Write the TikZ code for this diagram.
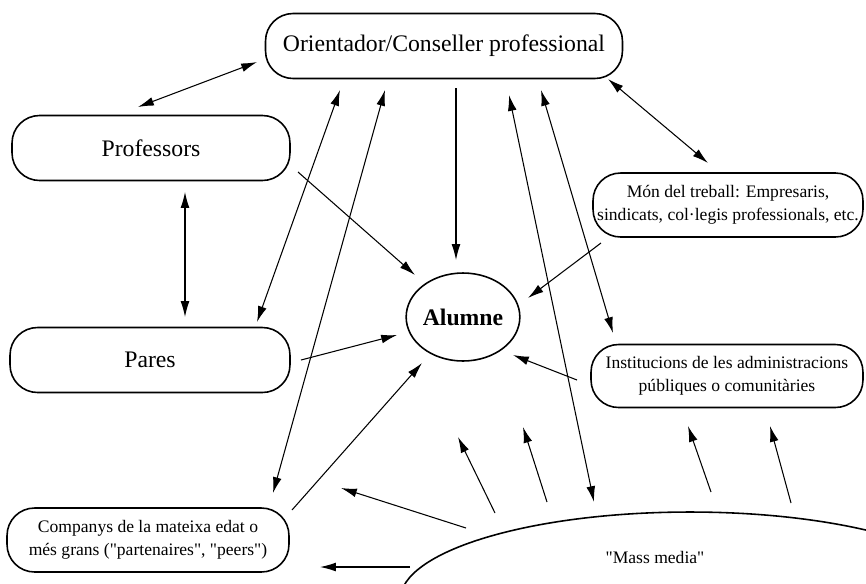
\documentclass[tikz,border=0pt]{standalone}
\usepackage{fontspec}
\setmainfont{Liberation Serif}[Ligatures=TeXOff]
\usetikzlibrary{calc, arrows.meta, shapes.geometric}

\tikzset{
  box/.style={draw, line width=0.9pt, rounded corners=0.55cm, align=center, inner sep=0pt},
  oval/.style={draw, line width=0.9pt, ellipse, align=center, inner sep=0pt},
  conn/.style={line width=0.6pt},
  big/.style={font=\fontsize{13.5}{15}\selectfont},
  small/.style={font=\fontsize{10}{13}\selectfont},
}

\begin{document}
\begin{tikzpicture}[x=0.02cm, y=-0.02cm, >={Latex[length=9pt,width=5pt]}]
  \useasboundingbox (0,0) rectangle (866,583);
  \clip (0,0) rectangle (866,583);

  \node [box, big, minimum width=7.14cm, minimum height=1.3cm] (orient) at (444,46) {Orientador/Conseller professional};
  \node [box, big, minimum width=5.56cm, minimum height=1.3cm] (prof) at (151,148) {Professors};
  \node [box, small, minimum width=5.4cm, minimum height=1.28cm] (mon) at (728,205) {Món del treball: Empresaris,\\sindicats, col·legis professionals, etc.};
  \node [oval, font=\fontsize{13.5}{15}\selectfont\bfseries, minimum width=2.24cm, minimum height=1.76cm] (alumne) at (463,317) {Alumne};
  \node [box, big, minimum width=5.6cm, minimum height=1.3cm] (pares) at (150,360) {Pares};
  \node [box, small, minimum width=5.44cm, minimum height=1.26cm] (inst) at (727,376) {Institucions de les administracions\\públiques o comunitàries};
  \node [box, small, minimum width=5.64cm, minimum height=1.28cm] (comp) at (148,540) {Companys de la mateixa edat o\\més grans ("partenaires", "peers")};
  \node [oval, minimum width=11.6cm, minimum height=3.52cm] (media) at (690,600) {};
  \node [small] (medialbl) at (655,557) {"Mass media"};

  \coordinate (tipa) at (458,437);
  \coordinate (tipb) at (523,427);
  \coordinate (tipc) at (688,426);
  \coordinate (tipd) at (770,426);

  \draw [conn, <->] ($(orient)+(-187,16)$) -- ($(prof)+(-13,-41)$);
  \draw [conn, <->] ($(orient)+(164,33)$) -- ($(mon)+(-20,-42)$);
  \draw [conn, ->] ($(orient)+(12,42)$) -- ($(alumne)+(-7,-57)$);
  \draw [conn, ->] ($(prof)+(147,24)$) -- ($(alumne)+(-48,-42)$);
  \draw [conn, <->] ($(prof)+(34,44)$) -- ($(pares)+(35,-43)$);
  \draw [conn, ->] ($(mon)+(-127,38)$) -- ($(alumne)+(65,-19)$);
  \draw [conn, ->] ($(pares)+(151,0)$) -- ($(alumne)+(-66,18)$);
  \draw [conn, ->] ($(inst)+(-150,4)$) -- ($(alumne)+(50,38)$);
  \draw [conn, ->] ($(comp)+(144,-30)$) -- ($(alumne)+(-41,46)$);
  \draw [conn, <->] ($(orient)+(-104,44)$) -- ($(pares)+(107,-38)$);
  \draw [conn, <->] ($(orient)+(-59,44)$) -- ($(comp)+(125,-47)$);
  \draw [conn, <->] ($(orient)+(65,49)$) -- ($(media)+(-96,-98)$);
  \draw [conn, <->] ($(orient)+(97,44)$) -- ($(inst)+(-114,-43)$);
  \draw [conn, ->] ($(media)+(-224,-72)$) -- ($(comp)+(193,-52)$);
  \draw [conn, ->] ($(media)+(-280,-33)$) -- ($(comp)+(172,27)$);
  \draw [conn, ->] ($(media)+(-195,-87)$) -- (tipa);
  \draw [conn, ->] ($(media)+(-143,-98)$) -- (tipb);
  \draw [conn, ->] ($(media)+(21,-108)$) -- (tipc);
  \draw [conn, ->] ($(media)+(101,-97)$) -- (tipd);
\end{tikzpicture}
\end{document}
